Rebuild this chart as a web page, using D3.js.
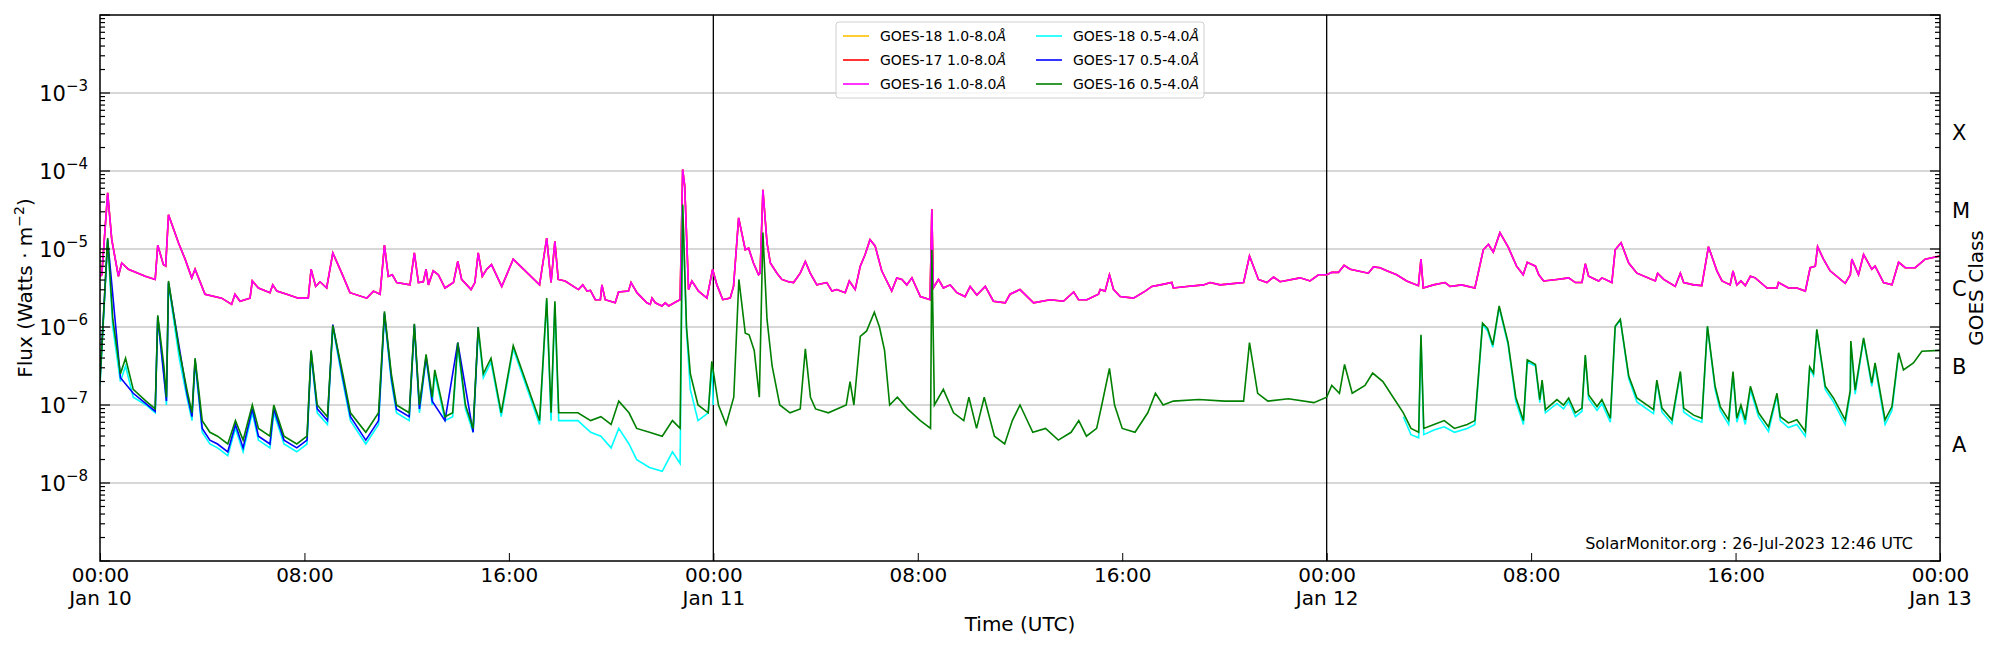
<!DOCTYPE html>
<html>
<meta charset="utf-8">
<style>
  body { margin: 0; background: #fff; }
  text { font-family: "DejaVu Sans", sans-serif; }
</style>
<script src="https://d3js.org/d3.v7.min.js"></script>
<body>
<script>
// hours since Jan 10 00:00 UTC, log10 flux (W m^-2)
var g16LongHours = [0,0.07,0.3,0.46,0.72,0.85,1.11,1.77,2.16,2.26,2.48,2.57,2.68,3.07,3.33,3.59,3.72,4.11,4.76,5.15,5.28,5.48,5.87,5.96,6.2,6.65,6.76,6.92,7.31,7.76,8.15,8.26,8.44,8.61,8.87,9.11,9.46,9.78,10.44,10.7,10.96,11.13,11.28,11.44,11.61,12.13,12.3,12.46,12.65,12.76,12.85,13.04,13.24,13.5,13.83,14.0,14.15,14.52,14.67,14.8,14.96,15.13,15.32,15.72,16.17,17.2,17.48,17.65,17.8,17.93,18.2,18.72,18.89,19.06,19.19,19.38,19.58,19.64,19.77,20.16,20.29,20.68,20.78,21.01,21.4,21.53,21.6,21.73,21.99,22.12,22.25,22.58,22.7,22.8,22.88,23.03,23.16,23.42,23.75,23.97,24.14,24.37,24.66,24.79,24.99,25.25,25.38,25.57,25.77,25.83,25.94,26.1,26.23,26.49,26.68,26.94,27.14,27.4,27.6,27.79,28.05,28.44,28.64,28.83,29.16,29.32,29.55,29.75,29.94,30.13,30.33,30.59,30.98,31.18,31.38,31.57,31.77,32.1,32.48,32.55,32.61,32.81,33.0,33.27,33.53,33.85,34.05,34.31,34.64,34.96,35.42,35.61,36.0,36.53,37.18,37.7,38.1,38.29,38.62,39.07,39.14,39.33,39.5,39.66,39.92,40.44,40.9,41.16,41.49,41.94,42.0,42.53,43.18,43.44,43.83,44.75,44.98,45.33,45.66,45.92,46.18,46.96,47.35,47.68,48.0,48.2,48.46,48.68,48.92,49.63,49.83,50.09,50.35,50.74,51.13,51.59,51.69,51.78,52.18,52.63,52.83,53.28,53.8,54.13,54.33,54.52,54.78,55.11,55.43,55.69,55.85,
  56.17,56.3,56.49,57.01,57.47,57.73,57.99,58.12,58.25,58.64,58.77,59.16,59.29,59.52,59.82,60.14,60.86,60.95,61.19,61.64,61.84,61.97,62.36,62.68,62.94,63.27,63.47,63.79,63.9,64.05,64.21,64.38,64.58,64.77,65.23,65.62,65.68,66.07,66.4,66.73,66.92,67.12,67.21,67.44,67.7,68.29,68.49,68.55,68.81,69.01,69.33,69.46,69.79,70.12,70.38,70.64,71.03,71.42,72];
var g16LongLog = [-5.35,-5.33,-4.28,-4.88,-5.35,-5.18,-5.26,-5.35,-5.39,-4.95,-5.2,-5.22,-4.56,-4.92,-5.13,-5.37,-5.26,-5.58,-5.63,-5.71,-5.58,-5.67,-5.63,-5.41,-5.5,-5.56,-5.46,-5.54,-5.58,-5.63,-5.63,-5.26,-5.48,-5.42,-5.5,-5.05,-5.31,-5.56,-5.63,-5.54,-5.58,-4.95,-5.35,-5.33,-5.43,-5.46,-5.05,-5.43,-5.42,-5.26,-5.46,-5.28,-5.33,-5.5,-5.43,-5.16,-5.39,-5.52,-5.43,-5.05,-5.35,-5.26,-5.2,-5.48,-5.13,-5.46,-4.86,-5.43,-4.9,-5.39,-5.41,-5.52,-5.46,-5.54,-5.53,-5.65,-5.65,-5.46,-5.65,-5.69,-5.55,-5.54,-5.43,-5.56,-5.69,-5.71,-5.63,-5.69,-5.73,-5.69,-5.73,-5.67,-5.65,-3.98,-4.19,-5.52,-5.41,-5.54,-5.63,-5.26,-5.46,-5.65,-5.63,-5.48,-4.6,-5.01,-4.99,-5.18,-5.33,-5.31,-4.24,-4.92,-5.18,-5.31,-5.39,-5.42,-5.43,-5.31,-5.16,-5.31,-5.46,-5.43,-5.54,-5.52,-5.56,-5.41,-5.52,-5.22,-5.07,-4.88,-4.96,-5.28,-5.54,-5.37,-5.39,-5.46,-5.37,-5.61,-5.65,-4.49,-5.5,-5.39,-5.5,-5.46,-5.56,-5.61,-5.48,-5.59,-5.48,-5.67,-5.69,-5.58,-5.52,-5.69,-5.65,-5.67,-5.55,-5.65,-5.65,-5.58,-5.52,-5.54,-5.33,-5.52,-5.61,-5.63,-5.54,-5.48,-5.46,-5.43,-5.5,-5.48,-5.46,-5.43,-5.46,-5.43,-5.09,-5.39,-5.43,-5.36,-5.42,-5.37,-5.41,-5.33,-5.33,-5.3,-5.3,-5.21,-5.26,-5.31,-5.23,-5.24,-5.28,-5.33,-5.41,-5.47,-5.13,-5.5,-5.46,-5.43,-5.48,-5.46,-5.5,-5.01,-4.94,-5.04,-4.79,-4.98,-5.22,-5.33,-5.17,
  -5.22,-5.33,-5.41,-5.39,-5.37,-5.43,-5.43,-5.19,-5.35,-5.41,-5.37,-5.43,-5.01,-4.92,-5.18,-5.31,-5.41,-5.31,-5.39,-5.48,-5.31,-5.43,-5.46,-5.47,-4.97,-5.28,-5.41,-5.46,-5.28,-5.46,-5.41,-5.47,-5.35,-5.37,-5.5,-5.5,-5.43,-5.5,-5.5,-5.54,-5.24,-5.22,-4.97,-5.13,-5.28,-5.44,-5.33,-5.13,-5.33,-5.07,-5.26,-5.22,-5.43,-5.46,-5.17,-5.24,-5.24,-5.13,-5.09];

var g16ShortHours = [0,0.3,0.5,0.8,1.0,1.3,1.8,2.16,2.26,2.5,2.6,2.68,3.1,3.4,3.6,3.72,4.0,4.3,4.6,5.0,5.3,5.6,5.96,6.2,6.65,6.8,7.2,7.7,8.1,8.26,8.5,8.9,9.11,9.5,9.8,10.4,10.9,11.13,11.4,11.6,12.1,12.3,12.5,12.76,13.0,13.1,13.5,13.8,14.0,14.3,14.6,14.8,15.0,15.3,15.7,16.17,17.2,17.48,17.65,17.8,17.95,18.7,19.2,19.6,20.0,20.3,20.7,21.0,21.5,22.0,22.4,22.7,22.8,22.95,23.1,23.4,23.8,23.94,24.2,24.5,24.8,25.0,25.25,25.4,25.6,25.8,25.94,26.1,26.3,26.6,27.0,27.4,27.6,27.8,28.0,28.5,29.2,29.35,29.5,29.75,30.0,30.3,30.5,30.7,30.9,31.2,31.6,32.1,32.5,32.55,32.65,33.0,33.4,33.8,34.0,34.3,34.6,35.0,35.4,35.7,36.0,36.5,37.0,37.5,38.0,38.3,38.6,39.0,39.2,39.5,39.7,40.0,40.5,41.0,41.3,41.6,42,43,44,44.75,44.98,45.3,45.7,46.5,47.5,48.0,48.2,48.5,48.7,49.0,49.5,49.8,50.2,50.6,51.0,51.3,51.6,51.69,51.8,52.2,52.6,53.0,53.5,53.8,54.1,54.3,54.5,54.75,55.1,55.4,55.7,55.85,
  56.17,56.34,56.43,56.56,57.01,57.27,57.47,57.73,57.99,58.12,58.25,58.58,58.77,59.1,59.29,59.49,59.82,60.14,60.79,60.92,61.12,61.51,61.84,61.97,62.36,62.68,62.9,63.2,63.4,63.73,63.9,64.05,64.21,64.38,64.58,64.9,65.29,65.62,65.75,66.07,66.4,66.73,66.9,67.05,67.18,67.51,67.83,68.29,68.49,68.51,68.68,69.01,69.33,69.46,69.85,70.12,70.38,70.57,70.96,71.29,72];
var g16ShortLog = [-6.7,-4.86,-5.9,-6.6,-6.4,-6.8,-6.95,-7.05,-5.85,-6.5,-6.9,-5.41,-6.3,-6.8,-7.1,-6.4,-7.2,-7.35,-7.4,-7.5,-7.2,-7.45,-7.0,-7.3,-7.4,-7.0,-7.4,-7.5,-7.4,-6.3,-7.0,-7.15,-5.98,-6.6,-7.1,-7.35,-7.1,-5.8,-6.6,-7.0,-7.1,-5.96,-7.0,-6.35,-6.9,-6.55,-7.15,-7.1,-6.2,-7.0,-7.3,-6.0,-6.6,-6.4,-7.1,-6.24,-7.2,-5.63,-7.1,-5.67,-7.1,-7.1,-7.2,-7.15,-7.25,-6.95,-7.1,-7.3,-7.35,-7.4,-7.2,-7.3,-4.43,-6.0,-6.6,-7.0,-7.1,-6.44,-7.0,-7.25,-6.9,-5.39,-6.08,-6.1,-6.3,-6.9,-4.79,-5.9,-6.5,-7.0,-7.1,-7.05,-6.28,-6.9,-7.05,-7.1,-7.0,-6.7,-7.0,-6.12,-6.05,-5.81,-6.0,-6.3,-7.0,-6.9,-7.05,-7.2,-7.3,-5.01,-7.0,-6.8,-7.1,-7.2,-6.9,-7.3,-6.9,-7.4,-7.5,-7.2,-7.0,-7.35,-7.3,-7.45,-7.35,-7.2,-7.4,-7.3,-7.0,-6.53,-7.0,-7.3,-7.35,-7.1,-6.85,-7.0,-6.95,-6.93,-6.95,-6.95,-6.2,-6.85,-6.95,-6.92,-6.97,-6.9,-6.75,-6.85,-6.48,-6.85,-6.75,-6.59,-6.7,-6.9,-7.1,-7.3,-7.35,-6.1,-7.3,-7.25,-7.2,-7.3,-7.25,-7.2,-5.95,-6.02,-6.23,-5.73,-6.2,-6.9,-7.2,-6.42,
  -6.48,-6.93,-6.68,-7.06,-6.93,-7.0,-6.91,-7.1,-7.04,-6.36,-6.87,-7.02,-6.93,-7.17,-5.99,-5.9,-6.63,-6.91,-7.06,-6.68,-7.04,-7.19,-6.57,-7.04,-7.13,-7.17,-5.99,-6.76,-7.02,-7.19,-6.57,-7.17,-7.0,-7.19,-6.76,-7.1,-7.28,-6.85,-7.15,-7.23,-7.19,-7.34,-6.51,-6.59,-6.03,-6.76,-6.91,-7.19,-6.81,-6.18,-6.81,-6.14,-6.72,-6.46,-7.19,-7.02,-6.33,-6.55,-6.46,-6.31,-6.3];

var g18ShortHours = [0,0.3,0.5,0.8,1.0,1.3,1.8,2.16,2.26,2.5,2.6,2.68,3.1,3.4,3.6,3.72,4.0,4.3,4.6,5.0,5.3,5.6,5.96,6.2,6.65,6.8,7.2,7.7,8.1,8.26,8.5,8.9,9.11,9.5,9.8,10.4,10.9,11.13,11.4,11.6,12.1,12.3,12.5,12.76,13.0,13.1,13.5,13.8,14.0,14.3,14.6,14.8,15.0,15.3,15.7,16.17,17.2,17.48,17.65,17.8,17.95,18.7,19.2,19.6,20.0,20.3,20.7,21.0,21.5,22.0,22.4,22.7,22.8,22.95,23.1,23.4,23.8,23.94,24.0,
  null,51.0,51.3,51.6,51.69,51.8,52.2,52.6,53.0,53.5,53.8,54.1,54.3,54.5,54.75,55.1,55.4,55.7,55.85,
  56.17,56.34,56.43,56.56,57.01,57.27,57.47,57.73,57.99,58.12,58.25,58.58,58.77,59.1,59.29,59.49,59.82,60.14,60.79,60.92,61.12,61.51,61.84,61.97,62.36,62.68,62.9,63.2,63.4,63.73,63.9,64.05,64.21,64.38,64.58,64.9,65.29,65.62,65.75,66.07,66.4,66.73,66.9,67.05,67.18,67.51,67.83,68.29,68.49,68.51,68.68,69.01,69.33,69.46,69.85,70.12,70.38];
var g18ShortLog = [-6.75,-4.9,-6.0,-6.7,-6.5,-6.9,-7.0,-7.1,-5.9,-6.6,-7.0,-5.45,-6.4,-6.9,-7.2,-6.45,-7.35,-7.5,-7.55,-7.65,-7.3,-7.6,-7.1,-7.45,-7.55,-7.1,-7.5,-7.6,-7.5,-6.35,-7.1,-7.25,-6.0,-6.7,-7.2,-7.5,-7.25,-5.85,-6.7,-7.1,-7.2,-6.0,-7.1,-6.4,-7.0,-6.6,-7.2,-7.15,-6.25,-7.05,-7.35,-6.05,-6.65,-6.45,-7.15,-6.28,-7.25,-5.66,-7.2,-5.7,-7.2,-7.2,-7.35,-7.4,-7.55,-7.3,-7.5,-7.7,-7.8,-7.85,-7.6,-7.75,-4.45,-6.05,-6.8,-7.2,-7.1,-6.5,-7.0,
  null,-7.15,-7.38,-7.42,-6.12,-7.38,-7.32,-7.28,-7.35,-7.3,-7.25,-5.97,-6.05,-6.26,-5.75,-6.23,-6.95,-7.25,-6.45,
  -6.5,-6.97,-6.7,-7.1,-6.98,-7.05,-6.95,-7.15,-7.08,-6.38,-6.92,-7.07,-6.98,-7.22,-6.0,-5.91,-6.66,-6.96,-7.11,-6.7,-7.09,-7.24,-6.59,-7.09,-7.18,-7.22,-6.0,-6.8,-7.07,-7.25,-6.6,-7.22,-7.05,-7.25,-6.8,-7.15,-7.34,-6.88,-7.2,-7.29,-7.25,-7.4,-6.53,-6.62,-6.04,-6.8,-6.96,-7.25,-6.85,-6.2,-6.86,-6.16,-6.76,-6.5,-7.25,-7.07,-6.35];

var g17ShortHours = [0,0.3,0.8,1.3,2.16,2.26,2.6,2.68,3.4,3.6,3.72,4.0,4.3,4.6,5.0,5.3,5.6,5.96,6.2,6.65,6.8,7.2,7.7,8.1,8.26,8.5,8.9,9.11,9.5,9.8,10.4,10.9,11.13,11.4,11.6,12.1,12.3,12.5,12.76,13.0,13.5,14.0,14.6,14.8];
var g17ShortLog = [-6.65,-4.88,-6.65,-6.85,-7.08,-5.87,-6.95,-5.43,-6.85,-7.15,-6.42,-7.3,-7.45,-7.5,-7.6,-7.25,-7.55,-7.05,-7.4,-7.5,-7.05,-7.45,-7.55,-7.45,-6.32,-7.05,-7.2,-5.97,-6.65,-7.15,-7.45,-7.2,-5.82,-6.65,-7.05,-7.15,-5.97,-7.05,-6.38,-6.95,-7.2,-6.2,-7.35,-6.0];

var seriesNames = ["GOES-18 1.0-8.0", "GOES-17 1.0-8.0", "GOES-16 1.0-8.0", "GOES-18 0.5-4.0", "GOES-17 0.5-4.0", "GOES-16 0.5-4.0"];
var seriesColors = ["#ffc000", "red", "magenta", "cyan", "blue", "green"];
var classLabels = ["A", "B", "C", "M", "X"];
var classLogs = [-7.5, -6.5, -5.5, -4.5, -3.5];
var dayLabels = ["Jan 10", "Jan 11", "Jan 12", "Jan 13"];

var W = 2000, H = 650;
var m = { left: 100, right: 60, top: 15, bottom: 89 };
var svg = d3.select("body").append("svg").attr("width", W).attr("height", H);

var t0 = Date.UTC(2023, 0, 10);
var x = d3.scaleUtc().domain([new Date(t0), new Date(t0 + 72 * 3600e3)]).range([m.left, W - m.right]);
var y = d3.scaleLog().domain([1e-9, 1e-2]).range([H - m.bottom, m.top]);
function hx(h) { return x(new Date(t0 + h * 3600e3)); }

// grid
var decades = [-8, -7, -6, -5, -4, -3];
svg.append("g").selectAll("line").data(decades).enter().append("line")
  .attr("x1", m.left).attr("x2", W - m.right)
  .attr("y1", function(d) { return y(Math.pow(10, d)); })
  .attr("y2", function(d) { return y(Math.pow(10, d)); })
  .attr("stroke", "#b0b0b0").attr("stroke-width", 1.2);

// day separators
svg.append("g").selectAll("line").data([24, 48]).enter().append("line")
  .attr("x1", hx).attr("x2", hx).attr("y1", m.top).attr("y2", H - m.bottom)
  .attr("stroke", "#000").attr("stroke-width", 1.3);

svg.append("clipPath").attr("id", "clip").append("rect")
  .attr("x", m.left).attr("y", m.top).attr("width", W - m.left - m.right).attr("height", H - m.top - m.bottom);

function drawSeries(hours, logs, color) {
  var pts = hours.map(function(h, i) { return [h, logs[i]]; });
  var line = d3.line().defined(function(d) { return d[0] !== null; })
    .x(function(d) { return hx(d[0]); })
    .y(function(d) { return y(Math.pow(10, d[1])); });
  svg.append("path").datum(pts).attr("d", line).attr("fill", "none")
    .attr("stroke", color).attr("stroke-width", 1.6).attr("clip-path", "url(#clip)");
}
// GOES-18/17 long channel lie beneath GOES-16 in the picture
drawSeries(g16LongHours, g16LongLog, seriesColors[0]);
drawSeries(g16LongHours, g16LongLog, seriesColors[1]);
drawSeries(g16LongHours, g16LongLog, seriesColors[2]);
drawSeries(g18ShortHours, g18ShortLog, seriesColors[3]);
drawSeries(g17ShortHours, g17ShortLog, seriesColors[4]);
drawSeries(g16ShortHours, g16ShortLog, seriesColors[5]);

// frame
svg.append("rect").attr("x", m.left).attr("y", m.top).attr("width", W - m.left - m.right)
  .attr("height", H - m.top - m.bottom).attr("fill", "none").attr("stroke", "#000").attr("stroke-width", 1.5);

// x axis
var xTicks = d3.range(0, 73, 8).map(function(h) { return new Date(t0 + h * 3600e3); });
var xAxis = d3.axisBottom(x).tickValues(xTicks).tickSize(-8).tickPadding(7).tickFormat(d3.utcFormat("%H:%M"));
var gx = svg.append("g").attr("transform", "translate(0," + (H - m.bottom) + ")").call(xAxis);
gx.select(".domain").remove();
gx.selectAll("text").attr("font-size", 20).attr("fill", "#000");
gx.selectAll(".tick").each(function(d) {
  var h = (d - t0) / 3600e3;
  if (h % 24 === 0) d3.select(this).append("text").attr("y", 30).attr("dy", "0.71em")
    .attr("text-anchor", "middle").attr("font-size", 20).attr("fill", "#000").text(dayLabels[h / 24]);
});

// y axes with minor ticks
var yTicks = [];
for (var e = -9; e < -2; e++) for (var k = 1; k < 10; k++) yTicks.push(k * Math.pow(10, e));
yTicks.push(1e-2);
function yAxisG(side) {
  var g = svg.append("g");
  g.selectAll("line").data(yTicks).enter().append("line")
    .attr("x1", side === "l" ? m.left : W - m.right)
    .attr("x2", function(d) {
      var major = Math.abs(Math.log10(d) - Math.round(Math.log10(d))) < 1e-6;
      var len = major ? 10 : 5;
      return side === "l" ? m.left + len : W - m.right - len;
    })
    .attr("y1", y).attr("y2", y).attr("stroke", "#000").attr("stroke-width", 1.2);
}
yAxisG("l"); yAxisG("r");

var yl = svg.append("g").selectAll("text").data(decades).enter().append("text")
  .attr("x", m.left - 12).attr("y", function(d) { return y(Math.pow(10, d)) + 8; })
  .attr("text-anchor", "end").attr("font-size", 21);
yl.append("tspan").text("10");
yl.append("tspan").attr("dy", -10).attr("font-size", 15).text(function(d) { return "\u2212" + (-d); });

svg.append("g").selectAll("text").data(classLabels).enter().append("text")
  .attr("x", W - m.right + 12).attr("y", function(d, i) { return y(Math.pow(10, classLogs[i])) + 8; })
  .attr("font-size", 21).text(function(d) { return d; });

// axis titles
svg.append("text").attr("x", (m.left + W - m.right) / 2).attr("y", 631).attr("text-anchor", "middle")
  .attr("font-size", 20).text("Time (UTC)");
var ylab = svg.append("text").attr("transform", "translate(32," + ((m.top + H - m.bottom) / 2) + ") rotate(-90)")
  .attr("text-anchor", "middle").attr("font-size", 20);
ylab.append("tspan").text("Flux (Watts \u00b7 m");
ylab.append("tspan").attr("dy", -8).attr("font-size", 14).text("\u22122");
ylab.append("tspan").attr("dy", 8).text(")");
svg.append("text").attr("transform", "translate(1983," + ((m.top + H - m.bottom) / 2) + ") rotate(-90)")
  .attr("text-anchor", "middle").attr("font-size", 20).text("GOES Class");

svg.append("text").attr("x", 1913).attr("y", 549).attr("text-anchor", "end").attr("font-size", 16)
  .text("SolarMonitor.org : 26-Jul-2023 12:46 UTC");

// legend
var lg = svg.append("g").attr("transform", "translate(836,22)");
lg.append("rect").attr("width", 368).attr("height", 76).attr("rx", 3).attr("fill", "#fff")
  .attr("fill-opacity", 0.8).attr("stroke", "#d0d0d0");
var items = lg.selectAll("g").data(seriesNames).enter().append("g")
  .attr("transform", function(d, i) { return "translate(" + (i < 3 ? 7 : 200) + "," + (14 + (i % 3) * 24) + ")"; });
items.append("line").attr("x1", 0).attr("x2", 26).attr("stroke", function(d, i) { return seriesColors[i]; }).attr("stroke-width", 1.6);
var it = items.append("text").attr("x", 37).attr("y", 5).attr("font-size", 14);
it.append("tspan").text(function(d) { return d; });
it.append("tspan").attr("font-style", "italic").text("\u00c5");
</script>
</body>
</html>
